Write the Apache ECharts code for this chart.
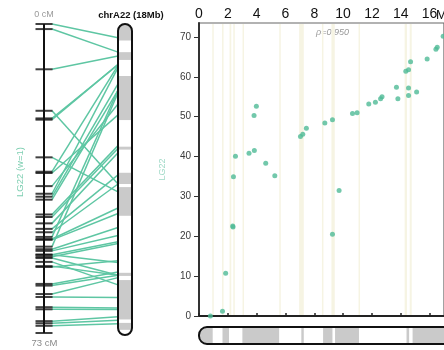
<!DOCTYPE html>
<html>
<head>
<meta charset="utf-8">
<script src="https://cdn.jsdelivr.net/npm/echarts@6/dist/echarts.min.js"></script>
<style>
  html, body { margin: 0; padding: 0; background: #fff; }
  #main { width: 444px; height: 350px; }
</style>
</head>
<body>
<div id="main"></div>
<script>
// markers: physical position (Mb) and genetic position (cM)
var physMb = [0.79, 1.63, 1.85, 9.26, 2.36, 2.34, 9.72, 2.39, 5.26, 4.63,
  2.53, 3.47, 3.84, 7.04, 7.2, 7.45, 8.73, 9.26, 3.82, 10.65,
  10.97, 3.98, 11.78, 12.24, 12.6, 12.7, 13.8, 14.54, 15.1, 14.54,
  13.7, 14.35, 14.54, 14.68, 15.83, 16.44, 16.53, 16.94, 17.15, 17.35];
var geneCM = [0.0, 1.2, 10.7, 20.5, 22.3, 22.6, 31.5, 34.9, 35.2, 38.3,
  40.1, 40.8, 41.5, 45.0, 45.6, 47.1, 48.4, 49.2, 50.3, 50.8,
  51.0, 52.6, 53.2, 53.6, 54.5, 55.0, 54.5, 55.3, 56.2, 57.2,
  57.4, 61.4, 61.8, 63.8, 64.5, 66.9, 67.4, 70.2, 70.7, 71.3];

// grey bands of chrA22 (Mb)
var bandStart = [0, 1.63, 3.01, 7.1, 8.61, 9.44, 14.4, 14.82, 17.3];
var bandEnd = [0.95, 2.08, 5.56, 7.27, 9.26, 11.1, 14.58, 17.1, 17.7];

// pale guide lines in the dot plot (Mb)
var guideStart = [0.92, 1.6, 2.12, 2.38, 3.02, 5.57, 6.95, 8.53, 9.19, 11.07, 14.27, 14.62];
var guideEnd = [0.99, 1.66, 2.24, 2.44, 3.1, 5.65, 7.27, 8.6, 9.42, 11.15, 14.43, 14.76];

var mapLengthCM = 73;
var chromLengthMb = 18;
var xMaxMb = 17;
var yMaxCM = 73.5;

var chart = echarts.init(document.getElementById('main'));

var dots = physMb.map(function (x, i) { return [x, geneCM[i]]; });
var bands = bandStart.map(function (s, i) { return [s, bandEnd[i]]; });
var guides = guideStart.map(function (s, i) { return [s, guideEnd[i]]; });

var option = {
  animation: false,
  grid: [
    // linkage map
    { left: 36, top: 24, width: 16, height: 309 },
    // vertical chromosome
    { left: 118, top: 24, width: 14, height: 311 },
    // dot plot
    { left: 199, top: 23, right: 0, bottom: 34, show: true, borderColor: '#666', borderWidth: 1.2 },
    // horizontal chromosome
    { left: 199, top: 327, right: 0, height: 17 }
  ],
  xAxis: [
    { gridIndex: 0, type: 'value', min: 0, max: 1, show: false },
    { gridIndex: 1, type: 'value', min: 0, max: 1, show: false },
    {
      gridIndex: 2, type: 'value', position: 'top', min: 0, max: xMaxMb, interval: 2,
      splitLine: { show: false },
      axisLine: { show: true, lineStyle: { color: '#222', width: 2 } },
      axisTick: { show: true, length: 3, lineStyle: { color: '#222', width: 1.5 } },
      axisLabel: { fontSize: 14, color: '#111', margin: 2, showMaxLabel: false }
    },
    { gridIndex: 3, type: 'value', min: 0, max: xMaxMb, show: false }
  ],
  yAxis: [
    { gridIndex: 0, type: 'value', min: 0, max: mapLengthCM, inverse: true, show: false },
    { gridIndex: 1, type: 'value', min: 0, max: chromLengthMb, inverse: true, show: false },
    {
      gridIndex: 2, type: 'value', min: 0, max: yMaxCM, interval: 10,
      name: 'LG22', nameLocation: 'middle', nameGap: 32,
      nameTextStyle: { color: '#9fd9c6', fontSize: 9 },
      splitLine: { show: false },
      axisLine: { show: true, lineStyle: { color: '#333', width: 2 } },
      axisTick: { show: true, length: 5, lineStyle: { color: '#333' } },
      axisLabel: { fontSize: 10, color: '#3a3a3a', margin: 8, showMaxLabel: false }
    },
    { gridIndex: 3, type: 'value', min: 0, max: 1, show: false }
  ],
  graphic: [
    { type: 'text', x: 44, y: 15, style: { text: '0 cM', fill: '#9a9a9a', font: '9px sans-serif', textAlign: 'center', textVerticalAlign: 'middle' } },
    { type: 'text', x: 44.5, y: 343, style: { text: mapLengthCM + ' cM', fill: '#8a8a8a', font: '9.5px sans-serif', textAlign: 'center', textVerticalAlign: 'middle' } },
    { type: 'text', x: 131, y: 15, style: { text: 'chrA22 (' + chromLengthMb + 'Mb)', fill: '#111', font: 'bold 9.5px sans-serif', textAlign: 'center', textVerticalAlign: 'middle' } },
    { type: 'text', x: 20, y: 172, rotation: Math.PI / 2, style: { text: 'LG22 (w=1)', fill: '#7fcfb2', font: '9.5px sans-serif', textAlign: 'center', textVerticalAlign: 'middle' } },
    { type: 'text', x: 316, y: 32, style: { text: 'ρ=0.950', fill: '#999', font: 'italic 9px sans-serif', textAlign: 'left', textVerticalAlign: 'middle' } },
    { type: 'text', x: 436, y: 15, style: { text: 'Mb', fill: '#111', font: '13px sans-serif', textAlign: 'left', textVerticalAlign: 'middle' } }
  ],
  series: [
    // links map -> chromosome
    {
      type: 'custom', xAxisIndex: 0, yAxisIndex: 0, data: dots, silent: true, z: 1,
      renderItem: function (params, api) {
        var cs = params.coordSys;
        var y1 = api.coord([0.5, api.value(1)])[1];
        var p2 = chart.convertToPixel({ gridIndex: 1 }, [0, api.value(0)]);
        return {
          type: 'line',
          shape: { x1: cs.x + cs.width, y1: y1, x2: p2[0], y2: p2[1] },
          style: { stroke: '#5ec6a3', lineWidth: 1.5 }
        };
      }
    },
    // map backbone
    {
      type: 'custom', xAxisIndex: 0, yAxisIndex: 0, data: [[0.5, mapLengthCM]], silent: true, z: 2,
      renderItem: function (params, api) {
        var a = api.coord([0.5, 0]);
        var b = api.coord([0.5, api.value(1)]);
        return { type: 'line', shape: { x1: a[0], y1: a[1], x2: b[0], y2: b[1] }, style: { stroke: '#111', lineWidth: 2 } };
      }
    },
    // map marker ticks
    {
      type: 'scatter', xAxisIndex: 0, yAxisIndex: 0, silent: true, z: 3,
      data: geneCM.map(function (c) { return [0.5, c]; }).concat([[0.5, mapLengthCM]]),
      symbol: 'rect', symbolSize: [17, 2],
      itemStyle: { color: '#111' }
    },
    // vertical chromosome bands
    {
      type: 'custom', xAxisIndex: 1, yAxisIndex: 1, data: bands, silent: true, z: 2,
      renderItem: function (params, api) {
        var s = api.value(0), e = api.value(1);
        var p1 = api.coord([0, s]), p2 = api.coord([1, e]);
        return {
          type: 'rect',
          shape: { x: p1[0], y: p1[1], width: p2[0] - p1[0], height: p2[1] - p1[1], r: s === 0 ? [7, 7, 0, 0] : 0 },
          style: { fill: '#cacaca' }
        };
      }
    },
    {
      type: 'custom', xAxisIndex: 1, yAxisIndex: 1, data: [[0, chromLengthMb]], silent: true, z: 3,
      renderItem: function (params, api) {
        var p1 = api.coord([0, 0]), p2 = api.coord([1, api.value(1)]);
        return {
          type: 'rect',
          shape: { x: p1[0], y: p1[1], width: p2[0] - p1[0], height: p2[1] - p1[1], r: 7 },
          style: { fill: 'none', stroke: '#111', lineWidth: 2 }
        };
      }
    },
    // guide lines
    {
      type: 'custom', xAxisIndex: 2, yAxisIndex: 2, data: guides, silent: true, z: 1,
      renderItem: function (params, api) {
        var cs = params.coordSys;
        var x1 = api.coord([api.value(0), 0])[0];
        var x2 = api.coord([api.value(1), 0])[0];
        return {
          type: 'rect',
          shape: { x: x1, y: cs.y + 1, width: Math.max(x2 - x1, 1.5), height: cs.height - 2 },
          style: { fill: '#f6f4e3' }
        };
      }
    },
    // dot plot
    {
      type: 'scatter', xAxisIndex: 2, yAxisIndex: 2, data: dots, z: 3,
      symbolSize: 5, clip: true,
      itemStyle: { color: '#4fba96' }
    },
    // horizontal chromosome bands
    {
      type: 'custom', xAxisIndex: 3, yAxisIndex: 3, data: bands, silent: true, z: 2,
      renderItem: function (params, api) {
        var s = api.value(0), e = api.value(1);
        var p1 = api.coord([s, 1]), p2 = api.coord([e, 0]);
        return {
          type: 'rect',
          shape: { x: p1[0], y: p1[1], width: p2[0] - p1[0], height: p2[1] - p1[1], r: s === 0 ? [8, 0, 0, 8] : 0 },
          style: { fill: '#cacaca' }
        };
      }
    },
    {
      type: 'custom', xAxisIndex: 3, yAxisIndex: 3, data: [[chromLengthMb, 1]], silent: true, z: 3,
      renderItem: function (params, api) {
        var p1 = api.coord([0, 1]), p2 = api.coord([api.value(0), 0]);
        return {
          type: 'rect',
          shape: { x: p1[0], y: p1[1], width: p2[0] - p1[0], height: p2[1] - p1[1], r: 8 },
          style: { fill: 'none', stroke: '#111', lineWidth: 2 }
        };
      }
    }
  ]
};

chart.setOption(option);
</script>
</body>
</html>
